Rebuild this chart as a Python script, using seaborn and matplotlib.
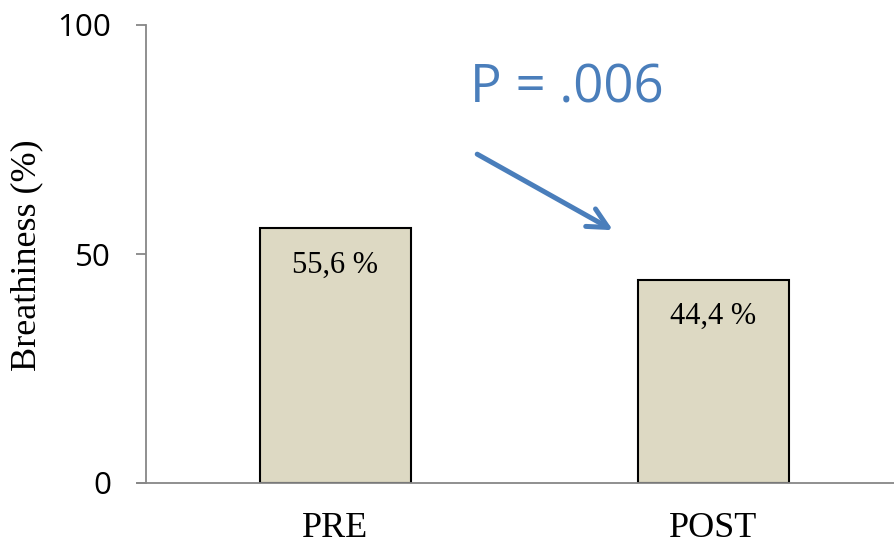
import matplotlib
matplotlib.use('Agg')
import matplotlib.pyplot as plt
import seaborn as sns
import pandas as pd

# data
phases = ['PRE', 'POST']
breathiness = [55.6, 44.4]
value_labels = ['55,6 %', '44,4 %']
p_text = 'P = .006'

sns.set_style('white')
plt.rcParams['text.color'] = 'black'
plt.rcParams['axes.labelcolor'] = 'black'
plt.rcParams['xtick.labelcolor'] = 'black'
plt.rcParams['ytick.labelcolor'] = 'black'
BAR_COLOR = '#ddd9c3'
AXIS_GRAY = '#878787'
BLUE = '#4a7ebb'

df = pd.DataFrame({'phase': phases, 'value': breathiness})

fig = plt.figure(figsize=(8.95, 5.45), dpi=100)
ax = fig.add_axes([146/895, 62/545, 749/895, 458/545])

sns.barplot(data=df, x='phase', y='value', color=BAR_COLOR, width=0.4,
            edgecolor='black', linewidth=1.5, saturation=1, ax=ax)

ax.set_xlim(-0.501, 1.48)
ax.set_ylim(0, 100)
ax.set_yticks([0, 50, 100])

for s in ['top', 'right']:
    ax.spines[s].set_visible(False)
for s in ['left', 'bottom']:
    ax.spines[s].set_color(AXIS_GRAY)
    ax.spines[s].set_linewidth(1.3)
ax.axhline(0, xmin=-0.012, xmax=0, clip_on=False, color=AXIS_GRAY, lw=1.3)

ax.tick_params(axis='y', direction='out', length=7, width=1.3, color=AXIS_GRAY,
               pad=18, left=True)
ax.tick_params(axis='x', length=0, pad=21)
for t in ax.get_yticklabels():
    t.set_fontfamily('Open Sans')
    t.set_fontsize(22.5)
for t in ax.get_xticklabels():
    t.set_fontfamily('Liberation Serif')
    t.set_fontsize(26)

ax.set_xlabel('')
ax.set_ylabel('Breathiness (%)', fontfamily='Liberation Serif', fontsize=26)
ax.yaxis.set_label_coords(-0.137, 0.498)

for i, (v, lab) in enumerate(zip(breathiness, value_labels)):
    ax.text(i, v - 8.1, lab, ha='center', va='center',
            fontfamily='Liberation Serif', fontsize=22)

ax.text(0.356, 83.0, p_text, color=BLUE, fontfamily='Open Sans', fontsize=38,
        ha='left', va='baseline')
ax.annotate('', xy=(0.734, 55.2), xytext=(0.375, 71.8),
            arrowprops=dict(arrowstyle='->', lw=3.6, color=BLUE, mutation_scale=36,
                            shrinkA=0, shrinkB=0))

plt.savefig('out.png', dpi=100)
plt.close()
